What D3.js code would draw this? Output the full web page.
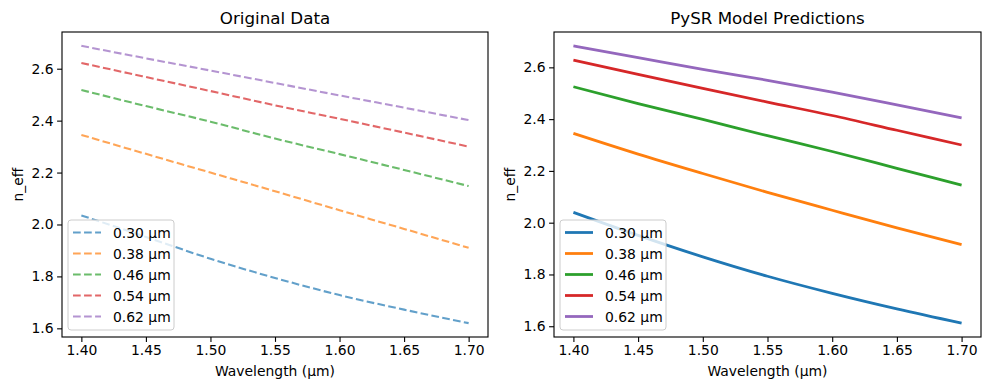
<!DOCTYPE html>
<html lang="en">
<head>
<meta charset="utf-8">
<title>n_eff vs wavelength</title>
<script src="https://d3js.org/d3.v7.min.js"></script>
<style>
  body { margin: 0; background: #fff; }
  text { font-family: "DejaVu Sans", sans-serif; fill: #000; }
</style>
</head>
<body>
<div id="here"></div>
<script>
// wavelengths (µm) the curves were sampled at
var wavelengths = [1.40, 1.45, 1.50, 1.55, 1.60, 1.65, 1.70];
var widths = ["0.30 µm", "0.38 µm", "0.46 µm", "0.54 µm", "0.62 µm"];
var colors = ["#1f77b4", "#ff7f0e", "#2ca02c", "#d62728", "#9467bd"];

// original data (left)
var orig030 = [2.035, 1.952, 1.868, 1.794, 1.728, 1.672, 1.620];
var orig038 = [2.345, 2.272, 2.200, 2.128, 2.055, 1.983, 1.910];
var orig046 = [2.518, 2.456, 2.396, 2.331, 2.271, 2.210, 2.148];
var orig054 = [2.622, 2.568, 2.514, 2.459, 2.407, 2.354, 2.300];
var orig062 = [2.688, 2.640, 2.593, 2.545, 2.497, 2.450, 2.402];

// PySR predictions (right)
var pred030 = [2.040, 1.951, 1.868, 1.793, 1.727, 1.667, 1.612];
var pred038 = [2.345, 2.265, 2.190, 2.117, 2.048, 1.980, 1.915];
var pred046 = [2.525, 2.460, 2.399, 2.336, 2.275, 2.210, 2.145];
var pred054 = [2.628, 2.573, 2.519, 2.466, 2.414, 2.357, 2.300];
var pred062 = [2.683, 2.638, 2.592, 2.550, 2.504, 2.455, 2.405];

var xTicks = [1.40, 1.45, 1.50, 1.55, 1.60, 1.65, 1.70];
var yTicks = [1.6, 1.8, 2.0, 2.2, 2.4, 2.6];

var W = 989, H = 390;
var pt = 100 / 72; // points -> px at dpi 100
var svg = d3.select("#here").append("svg")
  .attr("width", W).attr("height", H);

function drawPanel(left, right, title, series, dashed) {
  var top = 32, bottom = 337;
  var lw = dashed ? 1.5 * pt : 2 * pt;
  var dash = dashed ? (3.7 * 1.5 * pt) + "," + (1.6 * 1.5 * pt) : null;

  // 5% padding on the data range, like matplotlib
  var all = [].concat.apply([], series);
  var ymin = d3.min(all), ymax = d3.max(all), yr = ymax - ymin;
  var xmin = d3.min(wavelengths), xmax = d3.max(wavelengths), xr = xmax - xmin;

  var x = d3.scaleLinear().domain([xmin - 0.05 * xr, xmax + 0.05 * xr]).range([left, right]);
  var y = d3.scaleLinear().domain([ymin - 0.05 * yr, ymax + 0.05 * yr]).range([bottom, top]);

  var g = svg.append("g");

  var xAxis = d3.axisBottom(x).tickValues(xTicks).tickFormat(d3.format(".2f"))
    .tickSizeInner(4.9).tickSizeOuter(0).tickPadding(3.5);
  var yAxis = d3.axisLeft(y).tickValues(yTicks).tickFormat(d3.format(".1f"))
    .tickSizeInner(4.9).tickSizeOuter(0).tickPadding(3.5);

  var gx = g.append("g").attr("transform", "translate(0," + bottom + ")").call(xAxis);
  var gy = g.append("g").attr("transform", "translate(" + left + ",0)").call(yAxis);
  [gx, gy].forEach(function(a) {
    a.select(".domain").remove();
    a.selectAll("line").attr("stroke", "#000").attr("stroke-width", 0.8 * pt);
    a.selectAll("text").attr("font-size", 13.9).attr("font-family", "DejaVu Sans").attr("fill", "#000");
  });

  var line = d3.line()
    .x(function(d, i) { return x(wavelengths[i]); })
    .y(function(d) { return y(d); })
    .curve(d3.curveMonotoneX);

  g.selectAll("path.series")
    .data(series)
    .enter()
    .append("path")
    .attr("class", "series")
    .attr("d", line)
    .attr("fill", "none")
    .attr("stroke", function(d, i) { return colors[i]; })
    .attr("stroke-width", lw)
    .attr("stroke-opacity", dashed ? 0.7 : 1)
    .attr("stroke-dasharray", dash);

  // frame
  g.append("rect")
    .attr("x", left).attr("y", top)
    .attr("width", right - left).attr("height", bottom - top)
    .attr("fill", "none").attr("stroke", "#000").attr("stroke-width", 0.8 * pt);

  g.append("text")
    .attr("x", (left + right) / 2).attr("y", 24)
    .attr("text-anchor", "middle").attr("font-size", 16.7)
    .text(title);

  g.append("text")
    .attr("x", (left + right) / 2).attr("y", 376)
    .attr("text-anchor", "middle").attr("font-size", 13.9)
    .text("Wavelength (µm)");

  g.append("text")
    .attr("transform", "translate(" + (left - 44) + "," + ((top + bottom) / 2) + ") rotate(-90)")
    .attr("text-anchor", "middle").attr("dy", "0.35em").attr("font-size", 13.9)
    .text("n_eff");

  // legend, lower left
  var lx = left + 6, ly = 220, rowH = 21;
  var leg = g.append("g");
  leg.append("rect")
    .attr("x", lx).attr("y", ly)
    .attr("width", 106).attr("height", 110)
    .attr("rx", 3).attr("ry", 3)
    .attr("fill", "#fff").attr("fill-opacity", 0.8)
    .attr("stroke", "#cccccc").attr("stroke-width", 1);

  var item = leg.selectAll("g.item")
    .data(widths)
    .enter()
    .append("g")
    .attr("class", "item")
    .attr("transform", function(d, i) { return "translate(0," + (ly + 12.5 + i * rowH) + ")"; });

  item.append("line")
    .attr("x1", lx + 5).attr("x2", lx + 33)
    .attr("y1", 0).attr("y2", 0)
    .attr("stroke", function(d, i) { return colors[i]; })
    .attr("stroke-width", lw)
    .attr("stroke-opacity", dashed ? 0.7 : 1)
    .attr("stroke-dasharray", dash);

  item.append("text")
    .attr("x", lx + 45).attr("y", 5)
    .attr("font-size", 13.9)
    .text(function(d) { return d; });
}

drawPanel(62, 488, "Original Data", [orig030, orig038, orig046, orig054, orig062], true);
drawPanel(554, 981, "PySR Model Predictions", [pred030, pred038, pred046, pred054, pred062], false);
</script>
</body>
</html>
